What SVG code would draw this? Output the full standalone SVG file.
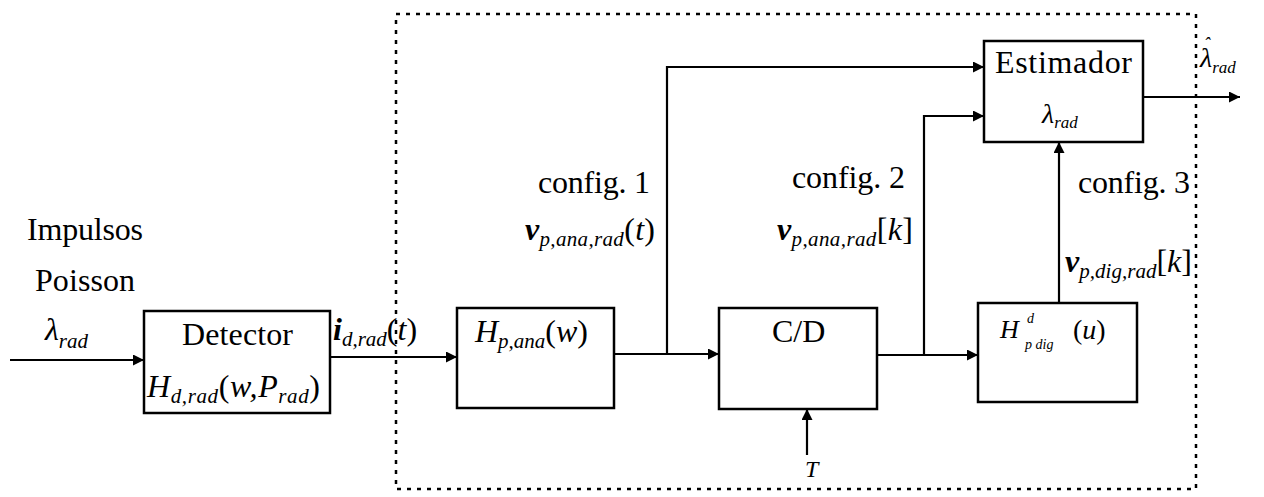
<svg xmlns="http://www.w3.org/2000/svg" width="1264" height="497" viewBox="0 0 1264 497">
<style>
.box{fill:#fff;stroke:#000;stroke-width:2.5}
.ln{fill:none;stroke:#000;stroke-width:2.2}
.dot{fill:none;stroke:#000;stroke-width:2.5;stroke-dasharray:4 6}
.t{font-family:"Liberation Serif",serif;font-size:32px;fill:#000}
.m{font-family:"Liberation Serif",serif;font-size:32px;font-style:italic;fill:#000}
.s{font-size:21px}
.u{font-style:normal}
.b{font-weight:bold}
</style>
<defs>
<marker id="ah" viewBox="0 0 10 10" refX="10" refY="5" markerWidth="5" markerHeight="5" orient="auto" markerUnits="strokeWidth">
<path d="M0,0 L10,5 L0,10 z" fill="#000"/>
</marker>
</defs>
<rect class="dot" x="396" y="14" width="800" height="475"/>
<g id="connectors">
<line class="ln" x1="10" y1="360" x2="144" y2="360" marker-end="url(#ah)"/>
<line class="ln" x1="330" y1="357" x2="457" y2="357" marker-end="url(#ah)"/>
<line class="ln" x1="614" y1="354" x2="719" y2="354" marker-end="url(#ah)"/>
<polyline class="ln" points="667,354 667,67 984,67" marker-end="url(#ah)"/>
<line class="ln" x1="877" y1="355" x2="978" y2="355" marker-end="url(#ah)"/>
<polyline class="ln" points="924,355 924,116 984,116" marker-end="url(#ah)"/>
<line class="ln" x1="1059" y1="303" x2="1059" y2="142" marker-end="url(#ah)"/>
<line class="ln" x1="1143" y1="97" x2="1240" y2="97" marker-end="url(#ah)"/>
<line class="ln" x1="807" y1="455" x2="807" y2="409" marker-end="url(#ah)"/>
</g>
<g id="input">
<text class="t" x="27" y="240" textLength="116">Impulsos</text>
<text class="t" x="35" y="291" textLength="100">Poisson</text>
<text class="m" x="45" y="340">λ<tspan class="s" dy="8">rad</tspan></text>
</g>
<g id="detector">
<rect class="box" x="144" y="311" width="186" height="102"/>
<text class="t" x="182" y="345" textLength="111">Detector</text>
<text class="m" x="147" y="397" textLength="173">H<tspan class="s" dy="6">d,rad</tspan><tspan class="u" dy="-6">(</tspan>w,P<tspan class="s" dy="6">rad</tspan><tspan class="u" dy="-6">)</tspan></text>
<text class="m" x="333" y="340"><tspan class="b">i</tspan><tspan class="s" dy="6">d,rad</tspan><tspan class="u" dy="-6">(</tspan>t<tspan class="u">)</tspan></text>
</g>
<g id="hpana">
<rect class="box" x="457" y="308" width="157" height="100"/>
<text class="m" x="475" y="342">H<tspan class="s" dy="6">p,ana</tspan><tspan class="u" dy="-6">(</tspan>w<tspan class="u">)</tspan></text>
</g>
<g id="cd">
<rect class="box" x="719" y="308" width="158" height="101"/>
<text class="t" x="772" y="342">C/D</text>
<text class="m" x="805" y="477" style="font-size:24px">T</text>
</g>
<g id="hdig">
<rect class="box" x="978" y="303" width="159" height="99"/>
<text class="m" x="1000" y="338" style="font-size:26px">H<tspan x="1027" y="323" style="font-size:14px">d</tspan><tspan x="1025" y="349" style="font-size:14px">p dig</tspan><tspan x="1073" y="339" style="font-size:28px"><tspan class="u">(</tspan>u<tspan class="u">)</tspan></tspan></text>
</g>
<g id="estimador">
<rect class="box" x="984" y="41" width="159" height="101"/>
<text class="t" x="995" y="73" textLength="137">Estimador</text>
<text class="m" x="1042" y="123" style="font-size:28px">λ<tspan dy="5" style="font-size:17px">rad</tspan></text>
<text class="m" x="1200" y="67" style="font-size:28px">λ<tspan dy="6" style="font-size:17px">rad</tspan><tspan x="1204" y="50" style="font-size:18px">ˆ</tspan></text>
</g>
<g id="labels">
<text class="t" x="538" y="193" textLength="112">config. 1</text>
<text class="t" x="792" y="188" textLength="113">config. 2</text>
<text class="t" x="1078" y="193" textLength="112">config. 3</text>
<text class="m" x="525" y="240" textLength="130"><tspan class="b">v</tspan><tspan class="s" dy="6">p,ana,rad</tspan><tspan class="u" dy="-6">(</tspan>t<tspan class="u">)</tspan></text>
<text class="m" x="777" y="240" textLength="136"><tspan class="b">v</tspan><tspan class="s" dy="6">p,ana,rad</tspan><tspan class="u" dy="-6">[</tspan>k<tspan class="u">]</tspan></text>
<text class="m" x="1065" y="272" textLength="127"><tspan class="b">v</tspan><tspan class="s" dy="6">p,dig,rad</tspan><tspan class="u" dy="-6">[</tspan>k<tspan class="u">]</tspan></text>
</g>
</svg>
